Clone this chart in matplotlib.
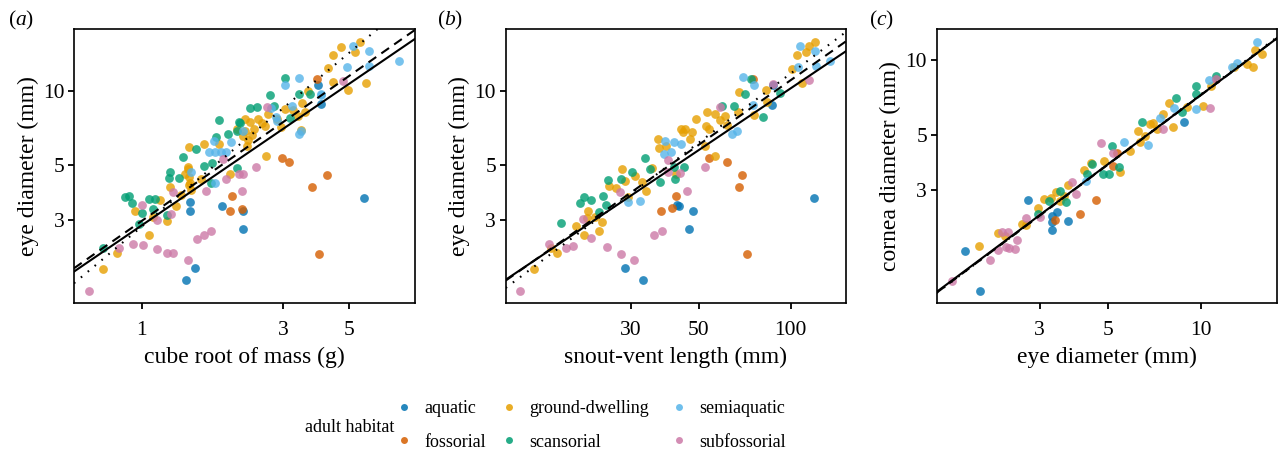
import numpy as np
import matplotlib
matplotlib.use('Agg')
import matplotlib.pyplot as plt
from matplotlib.lines import Line2D
from matplotlib.ticker import FixedLocator, FixedFormatter, NullLocator

plt.rcParams['font.family'] = ['Liberation Serif', 'DejaVu Serif']
plt.rcParams['mathtext.fontset'] = 'custom'
plt.rcParams['mathtext.rm'] = 'Liberation Serif'
plt.rcParams['mathtext.it'] = 'Liberation Serif:italic'

# ---------------- data ----------------
habitats = ['aquatic', 'fossorial', 'ground-dwelling', 'scansorial', 'semiaquatic', 'subfossorial']
habitat_colors = ['#0072B2', '#D55E00', '#E69F00', '#009E73', '#56B4E9', '#CC79A7']

# panel (a): cube root of mass (g) vs eye diameter (mm)
mass_aquatic = [1.41, 1.51, 1.46, 1.45, 1.87, 2.19, 2.20, 5.60, 3.92, 4.00]
eye_m_aquatic = [1.71, 1.91, 3.54, 3.27, 3.40, 3.27, 2.75, 3.69, 10.6, 8.8]
mass_fossorial = [3.90, 2.96, 3.14, 4.20, 3.73, 3.94, 2.01, 1.98, 2.18]
eye_m_fossorial = [11.2, 5.36, 5.13, 4.55, 4.06, 2.17, 3.75, 3.25, 3.33]
mass_ground = [0.74, 0.83, 0.95, 1.06, 1.15, 1.22, 1.09, 1.25, 1.31, 1.36, 1.44, 1.43, 1.44, 1.44, 1.62,
               1.58, 1.82, 1.99, 2.09, 2.23, 4.70, 5.44, 5.21, 4.40, 4.24, 4.41, 4.96, 5.66, 3.62, 3.46,
               3.03, 3.55, 2.63, 3.44, 2.26, 2.32, 2.38, 2.47, 2.60, 2.67, 2.85, 3.24, 2.20, 1.43, 1.45,
               2.28, 2.35, 2.22, 1.40, 1.47, 2.55, 2.95, 3.35]
eye_m_ground = [1.90, 2.20, 3.26, 2.60, 3.60, 2.98, 3.08, 4.07, 3.41, 3.79, 5.92, 4.82, 4.49, 4.17, 6.08,
                4.38, 6.08, 4.61, 7.00, 7.67, 15.0, 15.8, 14.4, 13.9, 12.4, 10.9, 10.1, 10.8, 9.97, 8.92,
                8.43, 8.18, 5.45, 6.93, 5.99, 7.45, 7.00, 7.67, 7.20, 8.05, 7.67, 8.33, 6.58, 4.92, 4.22,
                6.30, 6.60, 6.90, 4.60, 3.95, 7.40, 7.10, 7.90]
mass_scansorial = [0.74, 0.88, 0.91, 0.93, 1.00, 1.06, 1.11, 1.09, 0.98, 1.22, 1.25, 1.24, 1.34, 1.38, 1.53,
                   1.62, 1.72, 1.71, 1.82, 1.78, 1.95, 2.09, 2.14, 2.09, 3.03, 2.70, 3.39, 2.31, 2.44, 2.79,
                   3.16, 3.69, 2.13]
eye_m_scansorial = [2.31, 3.70, 3.76, 3.50, 3.21, 3.64, 3.65, 3.33, 2.89, 3.14, 4.68, 4.42, 4.43, 5.37, 5.81,
                    4.96, 5.10, 4.24, 7.59, 6.48, 6.66, 6.85, 7.38, 4.88, 11.3, 9.63, 9.73, 8.51, 8.61, 8.67,
                    7.75, 9.73, 7.49]
mass_semiaquatic = [7.32, 5.15, 5.80, 5.80, 4.92, 3.38, 3.03, 4.00, 3.37, 3.43, 2.73, 2.86, 3.21, 1.47, 1.68,
                    1.76, 1.85, 1.93, 1.75, 2.00, 1.77, 2.19, 2.84, 4.02]
eye_m_semiaquatic = [13.2, 15.2, 14.5, 12.6, 12.5, 11.3, 10.6, 9.63, 6.66, 6.89, 8.51, 7.56, 8.69, 4.68, 5.67,
                     5.63, 5.63, 5.63, 6.26, 6.18, 4.24, 6.85, 7.85, 9.67]
mass_subfossorial = [0.667, 0.841, 0.937, 1.015, 1.00, 1.13, 1.22, 1.28, 1.43, 1.13, 1.26, 1.28, 1.54, 1.62,
                     1.71, 1.65, 1.93, 2.17, 2.13, 2.43, 4.77, 2.20, 1.88, 2.65]
eye_m_subfossorial = [1.54, 2.31, 2.39, 2.37, 3.46, 2.28, 2.20, 2.20, 2.06, 2.99, 3.16, 3.88, 2.51, 2.61,
                      2.71, 3.93, 4.40, 3.94, 4.59, 4.92, 11.0, 4.62, 5.30, 8.57]

# panel (b): snout-vent length (mm) vs eye diameter (mm)
svl_aquatic = [28.6, 32.7, 42.9, 47.7, 46.5, 119, 87.2, 87.0, 42.5]
eye_s_aquatic = [1.91, 1.71, 3.41, 3.27, 2.75, 3.69, 10.6, 8.75, 3.45]
svl_fossorial = [75.2, 53.8, 61.9, 69.5, 67.6, 72.1, 37.5, 40.8, 42.1]
eye_s_fossorial = [11.2, 5.36, 5.13, 4.56, 4.06, 2.17, 3.26, 3.34, 3.75]
svl_ground = [14.4, 16.4, 17.1, 19.8, 21.1, 21.6, 23.6, 24.0, 21.5, 22.8, 25.3, 26.7, 28.1, 28.6, 29.4,
              32.6, 33.6, 35.1, 36.7, 37.1, 49.1, 53.1, 56.6, 45.1, 47.5, 43.6, 52.6, 46.8, 53.8, 60.7,
              67.2, 76.0, 67.9, 82.7, 83.4, 105, 101, 112, 115, 120, 109, 56.4, 52.2, 42.0,
              39.0, 44.5, 58.5, 62.0, 31.0]
eye_s_ground = [1.90, 2.31, 2.20, 2.82, 2.61, 3.27, 2.71, 2.95, 3.04, 3.07, 4.13, 4.02, 4.82, 4.32, 3.70,
                4.28, 3.93, 4.85, 6.37, 5.88, 7.67, 8.18, 8.05, 7.00, 6.79, 7.00, 7.20, 6.37, 7.00, 7.93,
                8.18, 7.98, 9.91, 10.06, 9.03, 13.9, 12.3, 14.4, 15.2, 15.8, 10.8, 5.44, 5.99, 4.60,
                6.00, 6.80, 7.60, 7.30, 4.50]
svl_scansorial = [17.7, 20.4, 21.0, 22.2, 23.6, 24.2, 25.2, 24.9, 27.7, 30.3, 33.3, 34.6, 37.4, 41.9, 41.4,
                  59.4, 65.1, 71.0, 81.4, 92.3, 74.0, 44.7]
eye_s_scansorial = [2.92, 3.52, 3.70, 3.62, 3.22, 3.76, 4.36, 3.44, 4.40, 4.68, 5.34, 4.82, 4.25, 4.39, 4.89,
                    8.64, 8.64, 9.67, 7.81, 9.76, 11.2, 4.89]
svl_semiaquatic = [135, 107, 120, 121, 106, 70.0, 75.6, 64.4, 66.5, 75.0, 38.7, 41.4, 40.5, 38.4, 29.2,
                   43.7, 32.2]
eye_s_semiaquatic = [13.2, 15.2, 14.5, 12.6, 12.5, 11.4, 10.6, 6.66, 6.89, 8.78, 6.26, 6.22, 5.63, 5.55,
                     3.54, 6.08, 3.56]
svl_subfossorial = [13.0, 16.1, 18.4, 19.4, 22.2, 25.1, 27.8, 30.7, 35.6, 38.0, 20.8, 27.6, 45.8, 52.4,
                    87.5, 115, 39.7, 43.4, 39.7, 58.7]
eye_s_subfossorial = [1.54, 2.39, 2.30, 2.36, 2.54, 2.32, 2.18, 2.06, 2.60, 2.71, 3.01, 3.88, 3.94, 4.90,
                      10.7, 11.1, 4.70, 4.63, 5.24, 8.61]

# panel (c): eye diameter (mm) vs cornea diameter (mm)
eye_c_aquatic = [1.92, 1.72, 2.76, 3.42, 3.28, 3.28, 3.71, 8.80, 3.30]
cornea_aquatic = [1.17, 1.70, 2.73, 2.44, 2.23, 2.07, 2.25, 5.65, 2.35]
eye_c_fossorial = [4.07, 4.56, 3.36, 5.19, 5.34, 11.2]
cornea_fossorial = [2.40, 2.74, 2.27, 3.76, 4.23, 8.41]
eye_c_ground = [1.91, 2.20, 2.32, 2.63, 2.71, 2.97, 3.11, 3.27, 3.50, 3.71, 4.17, 4.86, 5.45, 5.88, 6.26,
                6.84, 7.20, 7.55, 7.90, 8.10, 8.99, 10.2, 12.8, 14.1, 14.8, 15.0, 15.8, 10.8, 6.33,
                3.40, 3.60, 4.40, 6.60, 7.00]
cornea_ground = [1.79, 2.02, 1.95, 2.18, 2.17, 2.55, 2.76, 2.79, 2.70, 3.14, 3.60, 3.94, 3.56, 4.32, 5.19,
                 5.53, 5.28, 6.06, 6.73, 5.41, 6.47, 6.56, 9.37, 9.66, 9.37, 11.0, 10.6, 7.86, 4.67,
                 2.95, 2.85, 3.85, 4.95, 5.60]
eye_c_scansorial = [2.97, 3.22, 3.48, 3.64, 4.26, 4.42, 4.83, 5.15, 5.03, 5.43, 6.46, 8.30, 9.63, 9.67,
                    11.2, 8.70]
cornea_scansorial = [2.39, 2.72, 2.98, 2.68, 3.48, 3.83, 3.47, 4.53, 3.47, 3.70, 5.62, 7.03, 7.90, 7.31,
                     8.67, 6.17]
eye_c_semiaquatic = [15.2, 13.1, 12.6, 10.6, 9.63, 6.75, 5.63, 7.36, 8.20, 4.24]
cornea_semiaquatic = [11.9, 9.75, 9.45, 8.35, 6.38, 4.56, 4.67, 5.86, 6.44, 3.27]
eye_c_subfossorial = [1.56, 2.07, 2.20, 2.27, 2.37, 2.34, 2.38, 2.49, 2.54, 2.71, 3.00, 3.83, 3.93, 4.76,
                      5.19, 7.55, 10.7, 11.2]
cornea_subfossorial = [1.29, 1.56, 1.72, 2.04, 2.04, 1.77, 1.75, 1.74, 1.88, 2.32, 2.33, 3.22, 2.89, 4.64,
                       4.23, 5.28, 6.42, 8.40]

# fitted lines (log10 space): solid, dashed, dotted
fit_a_slope = [0.823, 0.843, 1.01]
fit_a_icpt = [0.454, 0.472, 0.449]
fit_b_slope = [0.831, 0.870, 0.931]
fit_b_icpt = [-0.652, -0.697, -0.792]
fit_c_slope = [0.927, 0.930, 0.935]
fit_c_icpt = [-0.0665, -0.070, -0.072]

panel_a = [(mass_aquatic, eye_m_aquatic), (mass_fossorial, eye_m_fossorial), (mass_ground, eye_m_ground),
           (mass_scansorial, eye_m_scansorial), (mass_semiaquatic, eye_m_semiaquatic),
           (mass_subfossorial, eye_m_subfossorial)]
panel_b = [(svl_aquatic, eye_s_aquatic), (svl_fossorial, eye_s_fossorial), (svl_ground, eye_s_ground),
           (svl_scansorial, eye_s_scansorial), (svl_semiaquatic, eye_s_semiaquatic),
           (svl_subfossorial, eye_s_subfossorial)]
panel_c = [(eye_c_aquatic, cornea_aquatic), (eye_c_fossorial, cornea_fossorial), (eye_c_ground, cornea_ground),
           (eye_c_scansorial, cornea_scansorial), (eye_c_semiaquatic, cornea_semiaquatic),
           (eye_c_subfossorial, cornea_subfossorial)]

# ---------------- figure ----------------
W, H = 1279, 455
fig = plt.figure(figsize=(W / 100, H / 100), dpi=100)
FS_LABEL = 17
FS_TICK = 15.5
FS_TAG = 15.5
FS_LEG = 13
line_styles = ['-', (0, (4.5, 3)), (0, (0.8, 3.5))]


def make_panel(left_px, data, slopes, icpts, xlim, ylim, xticks, yticks, xlabel, ylabel, tag, tag_x):
    ax = fig.add_axes([left_px / W, 1 - 303 / H, 340.5 / W, 274 / H])
    ax.set_xscale('log')
    ax.set_yscale('log')
    for (xs, ys), col in zip(data, habitat_colors):
        ax.scatter(xs, ys, s=40, color=col, alpha=0.8, linewidths=0, zorder=2)
    xx = np.logspace(np.log10(xlim[0]), np.log10(xlim[1]), 100)
    for sl, ic, ls in zip(slopes, icpts, line_styles):
        ax.plot(xx, 10 ** (ic + sl * np.log10(xx)), color='black', lw=1.5, ls=ls, zorder=3)
    ax.set_xlim(xlim)
    ax.set_ylim(ylim)
    ax.xaxis.set_major_locator(FixedLocator(xticks))
    ax.xaxis.set_major_formatter(FixedFormatter([str(t) for t in xticks]))
    ax.yaxis.set_major_locator(FixedLocator(yticks))
    ax.yaxis.set_major_formatter(FixedFormatter([str(t) for t in yticks]))
    ax.xaxis.set_minor_locator(NullLocator())
    ax.yaxis.set_minor_locator(NullLocator())
    ax.tick_params(axis='both', which='major', direction='out', length=4, width=1.3,
                   labelsize=FS_TICK, colors='black')
    ax.tick_params(axis='x', pad=9)
    ax.tick_params(axis='y', pad=3)
    for sp in ax.spines.values():
        sp.set_linewidth(1.2)
        sp.set_color('black')
    ax.set_xlabel(xlabel, fontsize=FS_LABEL, labelpad=5)
    ax.set_ylabel(ylabel, fontsize=FS_LABEL, labelpad=3)
    fig.text(tag_x / W, 1 - 20 / H, r'$(\mathit{' + tag + '})$', fontsize=FS_TAG, va='center', ha='left')
    return ax


make_panel(74, panel_a, fit_a_slope, fit_a_icpt, (0.593, 8.27), (1.38, 17.8), [1, 3, 5], [3, 5, 10],
           'cube root of mass (g)', 'eye diameter (mm)', 'a', 8)
make_panel(505.7, panel_b, fit_b_slope, fit_b_icpt, (11.65, 152), (1.38, 17.8), [30, 50, 100], [3, 5, 10],
           'snout-vent length (mm)', 'eye diameter (mm)', 'b', 437)
make_panel(936.7, panel_c, fit_c_slope, fit_c_icpt, (1.39, 17.7), (1.05, 13.4), [3, 5, 10], [3, 5, 10],
           'eye diameter (mm)', 'cornea diameter (mm)', 'c', 869)

# ---------------- legend ----------------
fig.text(305 / W, 1 - 428 / H, 'adult habitat', fontsize=FS_LEG, va='center', ha='left')
handles = [Line2D([], [], marker='o', ls='', markersize=5, markeredgewidth=0, color=c, alpha=0.85)
           for c in habitat_colors]
col_x = [397, 502, 672]
for i, cx in enumerate(col_x):
    fig.legend(handles[2 * i:2 * i + 2], habitats[2 * i:2 * i + 2], loc='center left',
               bbox_to_anchor=(cx / W, 1 - 425.5 / H), frameon=False, fontsize=FS_LEG,
               handlelength=0.75, handletextpad=0.75, labelspacing=0.9, borderpad=0, borderaxespad=0)

fig.savefig('out.png', dpi=100)
